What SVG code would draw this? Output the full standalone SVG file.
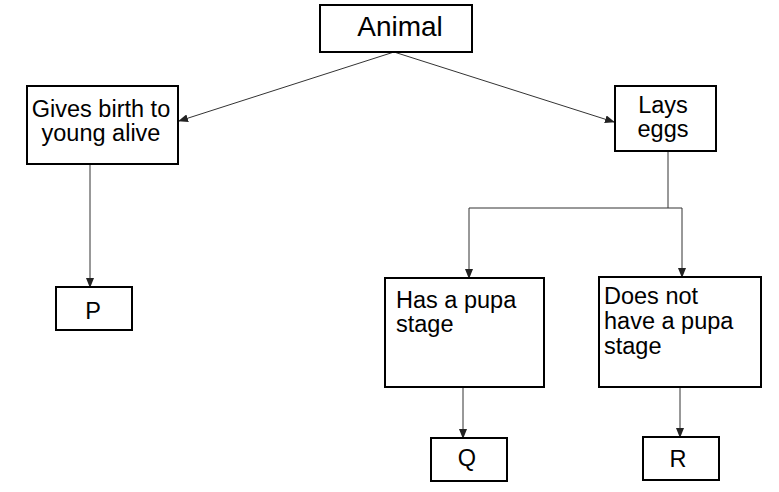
<svg xmlns="http://www.w3.org/2000/svg" width="779" height="492" viewBox="0 0 779 492">
<style>
.box{fill:#fff;stroke:#000;stroke-width:2}
.t{font-family:"Liberation Sans",Arial,sans-serif;font-size:23.5px;fill:#000}
.big{font-size:28px}
.c{stroke:#333;stroke-width:1;fill:none}
</style>
<defs>
<marker id="ah" markerWidth="10" markerHeight="8" refX="9" refY="4" orient="auto" markerUnits="userSpaceOnUse">
<path d="M0,0 L10,4 L0,8 Z" fill="#222"/>
</marker>
</defs>
<rect width="779" height="492" fill="#fff"/>
<g id="connectors">
<line class="c" x1="394" y1="52" x2="179" y2="121" marker-end="url(#ah)"/>
<line class="c" x1="394" y1="52" x2="614" y2="122" marker-end="url(#ah)"/>
<line class="c" x1="90" y1="164" x2="90" y2="287" marker-end="url(#ah)"/>
<line class="c" x1="668" y1="151" x2="668" y2="208"/>
<line class="c" x1="469" y1="208" x2="682" y2="208"/>
<line class="c" x1="469" y1="208" x2="469" y2="278" marker-end="url(#ah)"/>
<line class="c" x1="682" y1="208" x2="682" y2="277" marker-end="url(#ah)"/>
<line class="c" x1="463" y1="387" x2="463" y2="438" marker-end="url(#ah)"/>
<line class="c" x1="680" y1="387" x2="680" y2="437" marker-end="url(#ah)"/>
</g>
<g id="animal">
<rect class="box" x="320" y="5" width="152" height="47"/>
<text class="t big" x="400" y="36" text-anchor="middle">Animal</text>
</g>
<g id="gives-birth">
<rect class="box" x="27" y="86" width="151" height="78"/>
<text class="t" x="101" y="117" text-anchor="middle">Gives birth to</text>
<text class="t" x="101" y="141" text-anchor="middle">young alive</text>
</g>
<g id="lays-eggs">
<rect class="box" x="615" y="86" width="101" height="65"/>
<text class="t" x="663" y="113" text-anchor="middle">Lays</text>
<text class="t" x="663" y="137" text-anchor="middle">eggs</text>
</g>
<g id="p">
<rect class="box" x="56" y="287" width="76" height="43"/>
<text class="t" x="93" y="319" text-anchor="middle">P</text>
</g>
<g id="pupa">
<rect class="box" x="385" y="278" width="159" height="109"/>
<text class="t" x="396" y="308">Has a pupa</text>
<text class="t" x="396" y="332">stage</text>
</g>
<g id="no-pupa">
<rect class="box" x="599" y="277" width="162" height="110"/>
<text class="t" x="604" y="304">Does not</text>
<text class="t" x="604" y="329">have a pupa</text>
<text class="t" x="604" y="354">stage</text>
</g>
<g id="q">
<rect class="box" x="431" y="438" width="76" height="43"/>
<text class="t" x="467" y="466" text-anchor="middle">Q</text>
</g>
<g id="r">
<rect class="box" x="643" y="437" width="76" height="43"/>
<text class="t" x="678" y="467" text-anchor="middle">R</text>
</g>
</svg>
